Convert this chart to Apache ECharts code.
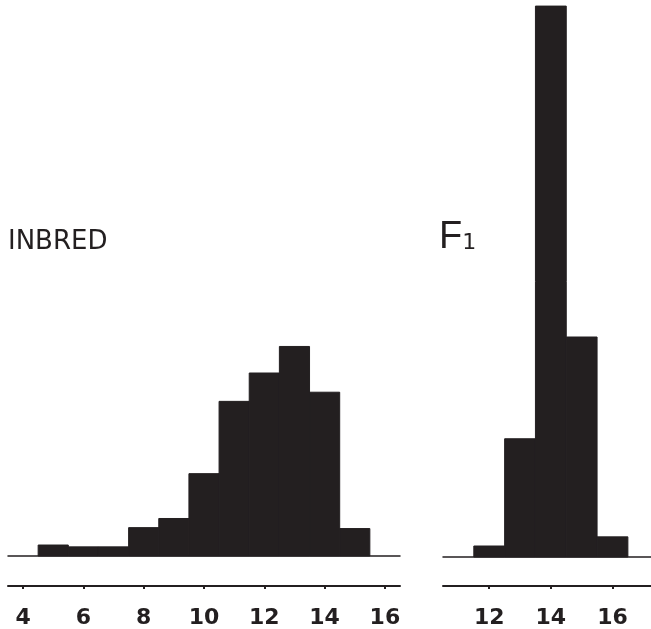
<!DOCTYPE html>
<html>
<head>
<meta charset="utf-8">
<script src="https://cdn.jsdelivr.net/npm/echarts@6/dist/echarts.min.js"></script>
<style>
  html, body { margin: 0; padding: 0; background: #fff; }
  #main { width: 651px; height: 629px; }
</style>
</head>
<body>
<div id="main"></div>
<script>
// class values (bin centres) and relative frequencies (%)
var inbredClasses = [5, 6, 7, 8, 9, 10, 11, 12, 13, 14, 15];
var inbredFreq = [1.2, 1.0, 1.0, 3.1, 4.1, 9.0, 16.9, 20.0, 22.9, 17.9, 3.0];
var f1Classes = [12, 13, 14, 15, 16];
var f1Freq = [1.2, 12.9, 60.1, 24.0, 2.2];
var inbredTicks = [4, 6, 8, 10, 12, 14, 16];
var f1Ticks = [12, 14, 16];

var barColor = '#231f20';
var myChart = echarts.init(document.getElementById('main'));

function pairs(xs, ys) {
    var out = [];
    for (var i = 0; i < xs.length; i++) out.push([xs[i], ys[i]]);
    return out;
}

// each bar spans one class unit, centred on the class value
function renderBin(params, api) {
    var x = api.value(0), y = api.value(1);
    var p0 = api.coord([x - 0.5, y]);
    var p1 = api.coord([x + 0.5, 0]);
    return {
        type: 'rect',
        shape: { x: p0[0], y: p0[1], width: p1[0] - p0[0], height: p1[1] - p0[1] },
        style: { fill: barColor, stroke: barColor, lineWidth: 1 }
    };
}

function baseAxis(grid, min, max) {
    return {
        type: 'value', gridIndex: grid, min: min, max: max, position: 'bottom',
        axisLine: { lineStyle: { color: barColor, width: 1.5 } },
        axisTick: { show: false }, axisLabel: { show: false }, splitLine: { show: false }
    };
}

function scaleAxis(grid, min, max, ticks, off) {
    return {
        type: 'value', gridIndex: grid, min: min, max: max, position: 'bottom', offset: off,
        axisLine: { lineStyle: { color: barColor, width: 2 } },
        axisTick: { show: true, customValues: ticks, length: 3, lineStyle: { color: barColor, width: 2 } },
        axisLabel: {
            show: true, customValues: ticks, margin: 21,
            color: barColor, fontSize: 22, fontWeight: 'bold', fontFamily: 'DejaVu Sans'
        },
        splitLine: { show: false }
    };
}

function hiddenY(grid) {
    return { type: 'value', gridIndex: grid, min: 0, max: 60, show: false };
}

option = {
    backgroundColor: '#fff',
    animation: false,
    grid: [
        { left: 8, right: 251, top: 7, bottom: 73 },
        { left: 443, right: 0, top: 7, bottom: 72 }
    ],
    xAxis: [
        baseAxis(0, 3.5, 16.5),
        scaleAxis(0, 3.5, 16.5, inbredTicks, 30),
        baseAxis(1, 10.5, 17.25),
        scaleAxis(1, 10.5, 17.25, f1Ticks, 29)
    ],
    yAxis: [hiddenY(0), hiddenY(1)],
    graphic: [
        {
            type: 'text', left: 8, top: 229,
            style: { text: 'INBRED', fill: barColor, font: '26px "DejaVu Sans"' }
        },
        {
            type: 'text', left: 439, top: 219,
            style: {
                text: '{a|F}{b|1}', fill: barColor,
                rich: {
                    a: { fontSize: 38, fontFamily: 'Liberation Sans', fontWeight: 'normal', color: barColor, verticalAlign: 'bottom' },
                    b: { fontSize: 22, fontFamily: 'DejaVu Sans', color: barColor, verticalAlign: 'bottom', padding: [0, 0, 3, 0] }
                }
            }
        }
    ],
    series: [
        {
            type: 'custom', xAxisIndex: 0, yAxisIndex: 0,
            renderItem: renderBin, data: pairs(inbredClasses, inbredFreq)
        },
        {
            type: 'custom', xAxisIndex: 2, yAxisIndex: 1,
            renderItem: renderBin, data: pairs(f1Classes, f1Freq)
        }
    ]
};

myChart.setOption(option);
</script>
</body>
</html>
